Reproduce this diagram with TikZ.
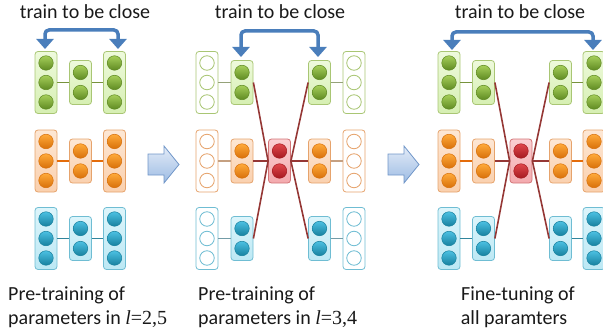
\documentclass[tikz,border=0pt]{standalone}
\usepackage{fontspec}
\setmainfont{Carlito}
\newfontfamily\serifm{Liberation Serif}
\usetikzlibrary{arrows.meta}
\definecolor{gtop}{HTML}{EEFADC}\definecolor{gbot}{HTML}{D6EFB2}\definecolor{gbord}{HTML}{A9C674}
\definecolor{glight}{HTML}{A6CF5A}\definecolor{gdark}{HTML}{5F8A22}\definecolor{gline}{HTML}{77933C}
\definecolor{otop}{HTML}{FDE7D4}\definecolor{obot}{HTML}{FAD0AE}\definecolor{obord}{HTML}{E6A36C}
\definecolor{olight}{HTML}{FFAA3A}\definecolor{odark}{HTML}{D8700A}\definecolor{oline}{HTML}{E46C0A}
\definecolor{btop}{HTML}{DDF5FB}\definecolor{bbot}{HTML}{BCE8F4}\definecolor{bbord}{HTML}{6FBDD3}
\definecolor{blight}{HTML}{4CC0E2}\definecolor{bdark}{HTML}{17819F}\definecolor{bline}{HTML}{31859C}
\definecolor{rtop}{HTML}{FBD0D2}\definecolor{rbot}{HTML}{F3A9AD}\definecolor{rbord}{HTML}{D27477}
\definecolor{rlight}{HTML}{E0474C}\definecolor{rdark}{HTML}{A51A20}\definecolor{xline}{HTML}{953735}
\definecolor{arrblue}{HTML}{4A7EBB}\definecolor{bigtop}{HTML}{E3ECF8}\definecolor{bigbot}{HTML}{9DBBE3}
\definecolor{bigbord}{HTML}{7096C8}
\newcommand\tallcol[4]{%
  \node[#4box, tall] (#1) at (#2,#3) {};
  \foreach \k/\dy in {1/-19.5,2/0,3/19.5} \node[#4ball] (#1-\k) at (#2,#3+\dy) {};}
\newcommand\hollowcol[4]{%
  \node[#4hbox, tall] (#1) at (#2,#3) {};
  \foreach \k/\dy in {1/-19.5,2/0,3/19.5} \node[#4hball] (#1-\k) at (#2,#3+\dy) {};}
\newcommand\shortcol[4]{%
  \node[#4box, short] (#1) at (#2,#3) {};
  \foreach \k/\dy in {1/-10,2/10} \node[#4ball] (#1-\k) at (#2,#3+\dy) {};}
\begin{document}
\begin{tikzpicture}[x=1pt,y=-1pt,
  box/.style={rounded corners=3pt, minimum width=22pt, inner sep=0pt, line width=0.8pt},
  tall/.style={minimum height=62pt},
  short/.style={minimum height=44pt},
  ball/.style={circle, minimum size=14.5pt, inner sep=0pt, line width=0.5pt},
  hball/.style={circle, minimum size=14.5pt, inner sep=0pt, line width=0.8pt, fill=white},
  gbox/.style={box, draw=gbord, top color=gtop, bottom color=gbot},
  obox/.style={box, draw=obord, top color=otop, bottom color=obot},
  bbox/.style={box, draw=bbord, top color=btop, bottom color=bbot},
  rbox/.style={box, draw=rbord, top color=rtop, bottom color=rbot},
  ghbox/.style={box, draw=gbord, fill=white},
  ohbox/.style={box, draw=obord, fill=white},
  bhbox/.style={box, draw=bbord, fill=white},
  gball/.style={ball, draw=gdark, top color=glight, bottom color=gdark},
  oball/.style={ball, draw=odark, top color=olight, bottom color=odark},
  bball/.style={ball, draw=bdark, top color=blight, bottom color=bdark},
  rball/.style={ball, draw=rdark, top color=rlight, bottom color=rdark},
  ghball/.style={hball, draw=gbord},
  ohball/.style={hball, draw=obord},
  bhball/.style={hball, draw=bbord},
  link/.style={line width=1.5pt},
  xlink/.style={line width=1.6pt, draw=xline},
  bracket/.style={line width=3.5pt, draw=arrblue, rounded corners=4pt,
    {Triangle[width=17pt,length=10pt]}-{Triangle[width=17pt,length=10pt]}},
  bigarrow/.style={draw=bigbord, line width=0.8pt, top color=bigtop, bottom color=bigbot},
  txt/.style={inner sep=0pt, font=\fontsize{20}{24}\selectfont, text=black!90}
]
\useasboundingbox (0,0) rectangle (603,329);

% ---------- Panel 1 ----------
\tallcol{a1gL}{46}{82.5}{g}\shortcol{a1gM}{80.5}{82.5}{g}\tallcol{a1gR}{114.5}{82.5}{g}
\tallcol{a1oL}{46}{161}{o}\shortcol{a1oM}{80.5}{161}{o}\tallcol{a1oR}{114.5}{161}{o}
\tallcol{a1bL}{46}{238.5}{b}\shortcol{a1bM}{80.5}{238.5}{b}\tallcol{a1bR}{114.5}{238.5}{b}
\draw[link, gline] (a1gL) -- (a1gM); \draw[link, gline] (a1gM) -- (a1gR);
\draw[link, oline] (a1oL) -- (a1oM); \draw[link, oline] (a1oM) -- (a1oR);
\draw[link, bline] (a1bL) -- (a1bM); \draw[link, bline] (a1bM) -- (a1bR);
\coordinate (a1s) at (45,49); \coordinate (a1e) at (118,49);
\draw[bracket] (a1s) -- ++(0,-19) -| (a1e);
\node[txt, anchor=base] (a1t) at (85,19) {train to be close};
\node[txt, anchor=base west] (a1c1) at (8,300) {Pre-training of};
\node[txt, anchor=base west] (a1c2) at (8,324) {parameters in {\serifm\itshape l}{\serifm =2,5}};

% big arrow 1
\draw[bigarrow] (148,154) -- (164,154) -- (164,146) -- (179,164.5) -- (164,183) -- (164,175) -- (148,175) -- cycle;

% ---------- Panel 2 ----------
\hollowcol{a2gH}{207}{82.5}{g}\shortcol{a2gI}{242}{82.5}{g}\shortcol{a2gJ}{319.5}{82.5}{g}\hollowcol{a2gK}{354}{82.5}{g}
\hollowcol{a2oH}{207}{161}{o}\shortcol{a2oI}{242}{161}{o}\shortcol{a2oJ}{319.5}{161}{o}\hollowcol{a2oK}{354}{161}{o}
\hollowcol{a2bH}{207}{238.5}{b}\shortcol{a2bI}{242}{238.5}{b}\shortcol{a2bJ}{319.5}{238.5}{b}\hollowcol{a2bK}{354}{238.5}{b}
\draw[link, gline!60!gray!80] (a2gH) -- (a2gI); \draw[link, gline!60!gray!80] (a2gJ) -- (a2gK);
\draw[link, oline!45!gray!70] (a2oH) -- (a2oI); \draw[link, oline!45!gray!70] (a2oJ) -- (a2oK);
\draw[link, bline!60!gray!80] (a2bH) -- (a2bI); \draw[link, bline!60!gray!80] (a2bJ) -- (a2bK);
\shortcol{a2R}{279.5}{161}{r}
\draw[xlink] (a2gI.east) -- (a2R.west); \draw[xlink] (a2oI) -- (a2R); \draw[xlink] (a2bI.east) -- (a2R.west);
\draw[xlink] (a2gJ.west) -- (a2R.east); \draw[xlink] (a2oJ) -- (a2R); \draw[xlink] (a2bJ.west) -- (a2R.east);
\coordinate (a2s) at (241,57); \coordinate (a2e) at (318,57);
\draw[bracket] (a2s) -- ++(0,-26) -| (a2e);
\node[txt, anchor=base] (a2t) at (280,19) {train to be close};
\node[txt, anchor=base west] (a2c1) at (198,300) {Pre-training of};
\node[txt, anchor=base west] (a2c2) at (198,324) {parameters in {\serifm\itshape l}{\serifm =3,4}};

% big arrow 2
\draw[bigarrow] (388,154) -- (404,154) -- (404,146) -- (419,164.5) -- (404,183) -- (404,175) -- (388,175) -- cycle;

% ---------- Panel 3 ----------
\tallcol{a3gL}{449}{82.5}{g}\shortcol{a3gI}{483.5}{82.5}{g}\shortcol{a3gJ}{560.5}{82.5}{g}\tallcol{a3gR}{594}{82.5}{g}
\tallcol{a3oL}{449}{161}{o}\shortcol{a3oI}{483.5}{161}{o}\shortcol{a3oJ}{560.5}{161}{o}\tallcol{a3oR}{594}{161}{o}
\tallcol{a3bL}{449}{238.5}{b}\shortcol{a3bI}{483.5}{238.5}{b}\shortcol{a3bJ}{560.5}{238.5}{b}\tallcol{a3bR}{594}{238.5}{b}
\draw[link, gline] (a3gL) -- (a3gI); \draw[link, gline] (a3gJ) -- (a3gR);
\draw[link, oline] (a3oL) -- (a3oI); \draw[link, oline] (a3oJ) -- (a3oR);
\draw[link, bline] (a3bL) -- (a3bI); \draw[link, bline] (a3bJ) -- (a3bR);
\shortcol{a3R}{521}{161}{r}
\draw[xlink] (a3gI.east) -- (a3R.west); \draw[xlink] (a3oI) -- (a3R); \draw[xlink] (a3bI.east) -- (a3R.west);
\draw[xlink] (a3gJ.west) -- (a3R.east); \draw[xlink] (a3oJ) -- (a3R); \draw[xlink] (a3bJ.west) -- (a3R.east);
\coordinate (a3s) at (452,50); \coordinate (a3e) at (593,50);
\draw[bracket] (a3s) -- ++(0,-18) -| (a3e);
\node[txt, anchor=base] (a3t) at (520,19) {train to be close};
\node[txt, anchor=base] (a3c1) at (518,300) {Fine-tuning of};
\node[txt, anchor=base] (a3c2) at (514,324) {all paramters};
\end{tikzpicture}
\end{document}
